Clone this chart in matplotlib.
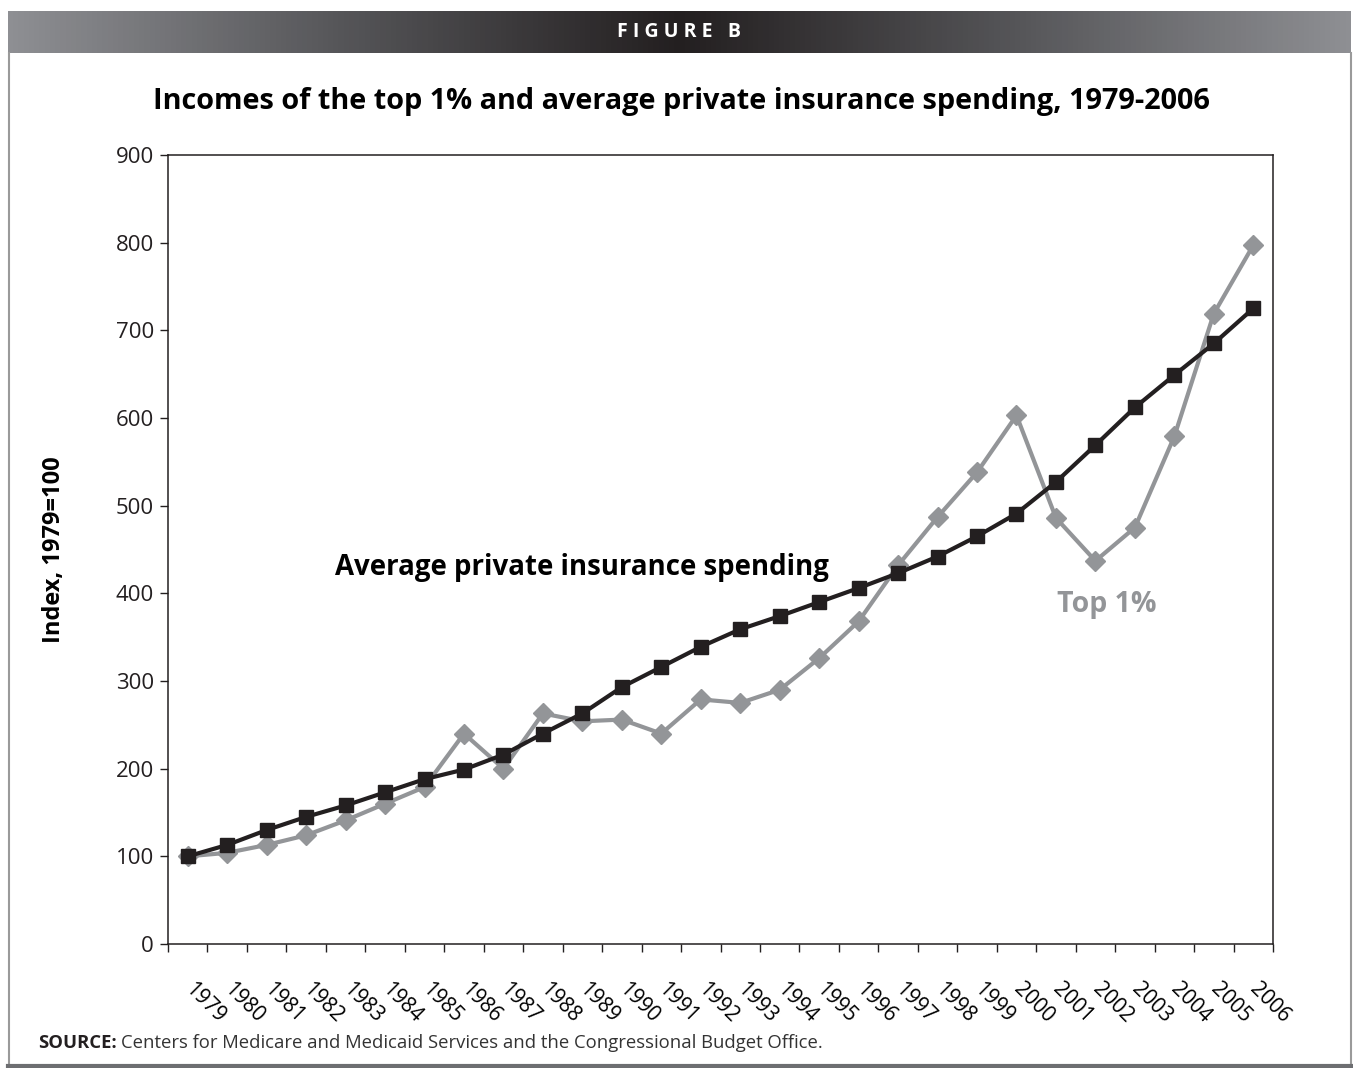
import matplotlib.pyplot as plt
import numpy as np
from matplotlib.colors import LinearSegmentedColormap

plt.rcParams['font.family'] = ['Open Sans', 'DejaVu Sans']

years = [str(y) for y in range(1979, 2007)]

insurance = [100, 113, 130, 145, 158, 173, 188, 199, 216, 240, 263,
             293, 316, 339, 359, 374, 390, 406, 423, 442, 465,
             491, 527, 569, 612, 649, 685, 725]

top1 = [100, 104, 113, 124, 141, 160, 179, 240, 200, 263, 254,
        256, 240, 279, 275, 290, 326, 368, 432, 487, 538,
        603, 486, 437, 475, 579, 719, 797]

black = '#231f20'
gray = '#939598'

W, H = 1353, 1068
fig = plt.figure(figsize=(W / 100, H / 100), dpi=100)

# header bar with gradient
hdr = fig.add_axes([8 / W, 1 - 53 / H, (1351 - 8) / W, 42 / H])
cmap = LinearSegmentedColormap.from_list('hdr', ['#8e8f93', '#555558', '#231f20', '#555558', '#8e8f93'])
hdr.imshow(np.linspace(0, 1, 256)[None, :], aspect='auto', cmap=cmap, extent=[0, 1, 0, 1])
hdr.set_axis_off()
hdr.text(0.5, 0.5, 'F I G U R E   B', color='white', fontsize=14, fontweight='bold',
         ha='center', va='center', transform=hdr.transAxes)

# outer frame
fig.add_artist(plt.Line2D([8.5 / W, 8.5 / W], [1 - 53 / H, 1 - 1065 / H], color='#9a9a9a', lw=1.5))
fig.add_artist(plt.Line2D([1350.5 / W, 1350.5 / W], [1 - 53 / H, 1 - 1065 / H], color='#9a9a9a', lw=1.5))
fig.add_artist(plt.Line2D([8 / W, 1351 / W], [1 - 1065.5 / H, 1 - 1065.5 / H], color='#6d6e71', lw=3))

ax = fig.add_axes([168 / W, 1 - 944 / H, (1273 - 168) / W, (944 - 155) / H])
x = np.arange(len(years))
ax.plot(x, top1, color=gray, lw=3, marker='D', ms=10, mec=gray, mfc=gray, zorder=2)
ax.plot(x, insurance, color=black, lw=3, marker='s', ms=10.5, mec=black, mfc=black, zorder=3)

ax.set_xlim(-0.5, len(years) - 0.5)
ax.set_ylim(0, 900)
ax.set_yticks(range(0, 901, 100))
ax.tick_params(axis='y', labelsize=16, length=6, width=1, color=black, labelcolor=black, pad=4)

ax.set_xticks(np.arange(-0.5, len(years), 1))
ax.set_xticklabels([])
ax.set_xticks(x, minor=True)
ax.set_xticklabels(years, minor=True, rotation=-45, ha='left', va='center',
                   rotation_mode='anchor', fontsize=15)
ax.tick_params(axis='x', which='major', length=6, width=1, color=black)
ax.tick_params(axis='x', which='minor', length=0, pad=30)
for s in ax.spines.values():
    s.set_color(black)
    s.set_linewidth(1.1)

ax.set_ylabel('Index, 1979=100', fontsize=17, fontweight='bold', labelpad=36)

ax.text(3.72, 430, 'Average private insurance spending', fontsize=19.9, fontweight='bold',
        color='black', va='center', ha='left')
ax.text(22.02, 387, 'Top 1%', fontsize=20.5, fontweight='bold', color=gray, va='center', ha='left')

fig.text(681 / W, 1 - 102 / H, 'Incomes of the top 1% and average private insurance spending, 1979-2006',
         fontsize=20.8, fontweight='bold', ha='center', va='center', color='black')

src = fig.text(38 / W, 1 - 1043 / H, 'SOURCE:', fontsize=13.3, fontweight='bold', va='center', color=black)
fig.canvas.draw()
bb = src.get_window_extent()
fig.text((bb.x1 + 4) / W, 1 - 1043 / H,
         'Centers for Medicare and Medicaid Services and the Congressional Budget Office.',
         fontsize=13.3, va='center', color='#333333')

fig.savefig('out.png', dpi=100)
